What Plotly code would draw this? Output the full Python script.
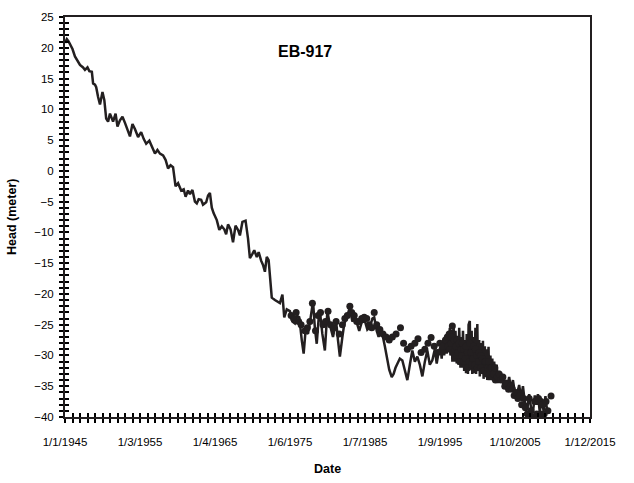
import numpy as np
import pandas as pd
import plotly.graph_objects as go

# ---- data ----
line_dates = [
    "1945-01","1945-04","1945-07","1945-10","1946-01","1946-05","1946-09","1947-01","1947-06","1947-09",
    "1948-01","1948-04","1948-08","1948-10","1949-01","1949-03","1949-06","1949-09","1950-01","1950-04",
    "1950-07","1950-10","1951-01","1951-04","1951-06","1951-10","1952-01","1952-05","1952-09","1953-01",
    "1953-05","1953-09","1954-01","1954-05","1954-10","1955-03","1955-07","1955-11","1956-04","1956-08",
    "1957-01","1957-05","1957-09","1958-02","1958-06","1958-10","1959-02","1959-06","1959-10","1960-02",
    "1960-07","1960-11","1961-02","1961-06","1961-09","1962-01","1962-05","1962-08","1962-11","1963-03",
    "1963-06","1963-11","1964-02","1964-05","1964-08","1964-11","1965-04","1965-08","1965-12","1966-04",
    "1966-07","1966-10","1967-02","1967-06","1967-10","1968-02","1968-05","1968-09","1969-02","1969-06",
    "1969-09","1970-01","1970-04","1970-08","1970-11","1971-03","1971-06","1971-09","1971-12","1972-03",
    "1972-05","1972-08","1973-01","1973-04","1973-09","1974-01","1974-04","1974-08","1975-01","1975-05",
    "1975-09","1976-01","1976-04","1976-08","1976-11","1977-02","1977-06","1977-10","1978-02","1978-05",
    "1978-08","1978-11","1979-01","1979-05","1979-09","1980-01","1980-05","1980-10","1981-03","1981-06",
    "1981-09","1982-01","1982-04","1982-09","1983-01","1983-05","1983-09","1984-01","1984-04","1984-08",
    "1985-01","1985-05","1985-09","1986-01","1986-04","1986-08","1986-11","1987-02","1987-05","1987-09",
    "1988-01","1988-04","1988-08","1988-11","1989-02","1989-05","1989-09","1990-01","1990-05","1990-09",
    "1991-01","1991-05","1991-09","1992-01","1992-05","1992-09","1993-01","1993-05","1993-09","1994-01",
    "1994-05","1994-08","1994-11",
    "1995-02","1995-04","1995-06","1995-08","1995-10","1995-12","1996-02","1996-03","1996-05","1996-06",
    "1996-08","1996-09","1996-11","1997-01","1997-02","1997-04","1997-05","1997-07","1997-08","1997-10",
    "1997-11","1998-01","1998-02","1998-04","1998-05","1998-07","1998-08","1998-10","1998-11","1999-01",
    "1999-02","1999-04","1999-05","1999-07","1999-08","1999-10","1999-11","2000-01","2000-02","2000-04",
    "2000-05","2000-07","2000-08","2000-10","2000-11","2001-01","2001-02","2001-04","2001-05","2001-07",
    "2001-08","2001-10","2001-11","2002-01","2002-02","2002-04","2002-06","2002-08","2002-10","2002-12",
    "2003-02","2003-04","2003-07","2003-10","2004-01","2004-04","2004-07","2004-10","2005-01","2005-05",
    "2005-08","2005-11","2006-02","2006-05","2006-09","2006-12","2007-03","2007-06","2007-09","2007-12",
    "2008-02","2008-05","2008-08","2008-11","2009-02","2009-05",
]
line_head = [
    20.8, 21.4, 21.0, 20.5, 19.8, 18.6, 17.8, 17.2, 16.8, 16.4,
    16.8, 16.2, 16.1, 14.2, 14.0, 13.6, 12.0, 10.8, 12.8, 11.5,
    8.5, 8.0, 9.3, 8.4, 8.0, 9.3, 7.2, 8.2, 8.8, 7.8,
    6.6, 5.6, 7.6, 6.8, 5.5, 6.3, 5.2, 4.4, 4.9, 4.0,
    2.8, 3.4, 2.8, 2.5, 1.8, 0.4, 0.9, 0.6, -2.5, -2.0,
    -3.2, -3.0, -4.2, -3.2, -3.8, -3.1, -5.0, -5.3, -4.6, -4.7,
    -5.5, -5.1, -4.0, -3.6, -6.0, -6.9, -8.0, -9.6, -9.0, -9.5,
    -10.3, -8.7, -9.5, -11.6, -8.9, -9.6, -10.5, -8.3, -8.1, -11.0,
    -14.2, -13.5, -12.9, -14.0, -13.2, -14.6, -15.3, -16.4, -14.0, -14.5,
    -17.0, -20.6, -21.0, -21.2, -21.5, -20.1, -23.8, -22.5, -22.8, -24.5,
    -24.8, -23.6, -23.8, -27.5, -29.7, -26.0, -26.5, -24.0, -21.2, -25.5,
    -28.1, -24.0, -22.8, -26.5, -29.2, -22.8, -25.0, -27.0, -24.4, -27.5,
    -30.2, -27.0, -24.9, -23.5, -22.2, -24.5, -23.8, -25.0, -26.0, -24.6,
    -24.4, -25.8, -25.4, -24.0, -23.8, -26.0, -27.0, -25.5, -26.5, -28.5,
    -30.5, -32.3, -33.5, -33.0, -32.0, -31.3, -30.5, -30.8, -32.5, -34.0,
    -31.5, -29.2, -31.0, -30.2, -31.5, -33.4, -31.0, -29.2, -31.5, -30.8,
    -29.0, -31.3, -29.5,
    -28.6, -30.5, -27.5, -30.0, -27.8, -29.7, -26.5, -29.0, -25.5, -30.0,
    -25.8, -31.0, -25.2, -31.0, -26.0, -31.3, -26.8, -31.5, -25.5, -32.0,
    -27.0, -32.0, -26.0, -32.5, -27.5, -32.9, -26.5, -33.0, -25.0, -24.4,
    -32.0, -26.0, -33.0, -27.0, -32.9, -25.5, -33.0, -24.9, -32.5, -27.5,
    -33.4, -28.0, -33.0, -27.6, -33.8, -28.5, -33.5, -29.0, -34.0, -28.6,
    -34.0, -30.0, -33.5, -30.5, -34.0, -31.0, -33.5, -31.5, -34.5, -32.5,
    -34.0, -33.0, -35.0, -34.0, -35.0, -33.5, -35.5, -34.0, -36.0, -36.1,
    -34.8, -37.0, -35.0, -37.5, -38.7, -36.3, -38.5, -39.3, -36.5, -38.0,
    -36.3, -39.2, -37.0, -39.0, -36.6, -39.2,
]

dot_dates = [
    "1975-03","1975-07","1975-11","1976-03","1976-07","1977-01","1977-05","1977-09","1978-01","1978-06",
    "1978-10","1979-02","1979-06","1979-10","1980-02","1980-06","1980-11","1981-03","1981-08","1982-01",
    "1982-05","1982-09","1983-01","1983-04","1983-08","1983-12","1984-04","1984-08","1984-12","1985-04",
    "1985-08","1985-12","1986-04","1986-08","1987-01","1987-06","1987-11","1988-04","1988-09","1989-03",
    "1989-10","1990-03","1990-09","1991-03","1991-09","1992-02","1992-07","1993-01","1993-06","1993-11",
    "1994-04","1994-09","1995-01","1995-06","1995-10",
    "1996-01","1996-02","1996-04","1996-05","1996-07","1996-08","1996-09","1996-10","1996-12","1997-01",
    "1997-03","1997-04","1997-05","1997-06","1997-08","1997-09","1997-11","1997-12","1998-01","1998-03",
    "1998-04","1998-06","1998-07","1998-09","1998-10","1998-12","1999-01","1999-03","1999-04","1999-06",
    "1999-07","1999-09","1999-10","1999-12","2000-01","2000-03","2000-04","2000-06","2000-07","2000-09",
    "2000-10","2000-12","2001-01","2001-03","2001-04","2001-06","2001-07","2001-09","2001-10","2001-12",
    "2002-01","2002-03","2002-05","2002-06","2002-09","2002-12",
    "2003-03","2003-06","2003-09","2003-12","2004-03","2004-06","2004-09","2004-12","2005-03","2005-06",
    "2005-09","2005-12","2006-03","2006-06","2006-09","2006-12","2007-03","2007-06","2007-09","2007-12",
    "2008-03","2008-06","2008-09","2008-12","2009-03","2009-06","2009-11",
]
dot_head = [
    -23.5, -24.0, -23.0, -24.5, -25.0, -26.0, -25.5, -24.5, -21.5, -26.0,
    -23.5, -23.0, -25.0, -24.5, -22.8, -25.0, -25.5, -24.5, -26.5, -25.0,
    -24.0, -23.5, -22.0, -23.0, -23.5, -24.5, -24.5, -24.0, -23.8, -24.0,
    -25.0, -25.5, -23.0, -25.0, -25.8, -26.5, -27.0, -27.5, -27.0, -26.5,
    -25.5, -28.0, -29.0, -28.5, -28.0, -27.3, -29.5, -29.0, -28.0, -27.1,
    -28.5, -29.5, -28.0, -28.5, -27.5,
    -27.0, -28.5, -26.5, -29.0, -28.0, -27.0, -25.2, -29.5, -27.5, -29.0,
    -28.5, -30.0, -27.5, -29.5, -28.0, -31.0, -29.0, -30.0, -28.0, -29.0,
    -31.0, -30.5, -28.5, -29.5, -32.0, -31.0, -28.0, -29.5, -31.5, -30.5,
    -28.5, -31.5, -29.0, -30.0, -32.0, -31.0, -29.5, -32.0, -30.0, -30.5,
    -32.5, -32.5, -31.0, -31.0, -33.0, -32.0, -31.0, -33.0, -32.0, -32.0,
    -33.5, -33.0, -32.0, -34.0, -33.5, -33.0,
    -34.0, -33.5, -35.0, -34.5, -35.5, -35.0, -35.5, -36.5, -36.0, -37.0,
    -36.5, -38.0, -37.0, -38.5, -39.5, -37.0, -39.0, -40.0, -37.5, -39.5,
    -37.0, -39.5, -38.0, -39.5, -37.5, -39.0, -36.6,
]

x_tick_dates = ["1945-01-01","1955-01-03","1965-01-04","1975-01-06","1985-01-07",
                "1995-01-09","2005-01-10","2015-01-12"]
x_tick_labels = ["1/1/1945","1/3/1955","1/4/1965","1/6/1975","1/7/1985",
                 "1/9/1995","1/10/2005","1/12/2015"]
y_ticks = list(range(-40, 26, 5))

INK = "#231f20"
TICK = "#000000"
FONT = "Liberation Sans, Arial, sans-serif"

start = pd.Timestamp("1945-01-01")
minor_x = [(start + pd.Timedelta(days=365.4 * k)).strftime("%Y-%m-%d %H:%M") for k in range(71)]
x_range = ["1945-01-01", "2015-01-12"]
y_range = [-40, 25]

fig = go.Figure()
fig.add_trace(go.Scatter(x=pd.to_datetime(line_dates), y=line_head, mode="lines",
                         line=dict(color=INK, width=2.5), showlegend=False))
fig.add_trace(go.Scatter(x=pd.to_datetime(dot_dates), y=dot_head, mode="markers",
                         marker=dict(color=INK, size=7), showlegend=False))
# invisible trace to activate the overlay axes used for crossing ticks
fig.add_trace(go.Scatter(x=[x_range[0]], y=[0], xaxis="x2", yaxis="y2", mode="markers",
                         marker=dict(opacity=0), showlegend=False, hoverinfo="skip"))

common_x = dict(type="date", range=x_range, tickmode="array", tickvals=x_tick_dates,
                showgrid=False, zeroline=False)
common_y = dict(range=y_range, tickmode="array", tickvals=y_ticks, showgrid=False, zeroline=False)
TW = 1.6

fig.update_layout(
    width=634, height=483,
    margin=dict(l=65, r=44, t=11, b=66),
    paper_bgcolor="white", plot_bgcolor="white",
    font=dict(family=FONT, color="#000000", size=11.5),
    xaxis=dict(**common_x, ticktext=x_tick_labels, ticks="outside", ticklen=4, tickwidth=TW,
               tickcolor=TICK, showline=True, linecolor=INK, linewidth=2, mirror=True,
               ticklabelstandoff=9, tickfont=dict(size=11.5, family=FONT),
               minor=dict(tickmode="array", tickvals=minor_x, ticks="outside", ticklen=4,
                          tickwidth=TW, tickcolor=TICK, showgrid=False)),
    xaxis2=dict(**common_x, overlaying="x", anchor="y2", side="bottom", ticks="inside", ticklen=4,
                tickwidth=TW, tickcolor=TICK, showticklabels=False, showline=False,
                minor=dict(tickmode="array", tickvals=minor_x, ticks="inside", ticklen=4,
                           tickwidth=TW, tickcolor=TICK, showgrid=False)),
    yaxis=dict(**common_y, ticks="outside", ticklen=4, tickwidth=TW, tickcolor=TICK,
               showline=True, linecolor=INK, linewidth=2, mirror=True,
               ticklabelstandoff=3, tickfont=dict(size=11.5, family=FONT),
               minor=dict(dtick=1, tick0=0, ticks="outside", ticklen=4, tickwidth=TW,
                          tickcolor=TICK, showgrid=False)),
    yaxis2=dict(**common_y, overlaying="y", anchor="x2", side="left", ticks="inside", ticklen=4,
                tickwidth=TW, tickcolor=TICK, showticklabels=False, showline=False,
                minor=dict(dtick=1, tick0=0, ticks="inside", ticklen=4, tickwidth=TW,
                           tickcolor=TICK, showgrid=False)),
    annotations=[
        dict(text="<b>EB-917</b>", xref="paper", yref="paper", x=0.457, y=0.914,
             showarrow=False, font=dict(size=16, family=FONT, color="#000000"),
             xanchor="center", yanchor="middle"),
        dict(text="<b>Date</b>", xref="paper", yref="paper", x=0.5, y=-0.1305,
             showarrow=False, font=dict(size=12.5, family=FONT, color="#000000"),
             xanchor="center", yanchor="middle"),
        dict(text="<b>Head (meter)</b>", xref="paper", yref="paper", x=-0.101, y=0.5,
             textangle=-90, showarrow=False, font=dict(size=12.5, family=FONT, color="#000000"),
             xanchor="center", yanchor="middle"),
    ],
)

fig.write_html("out.html")
